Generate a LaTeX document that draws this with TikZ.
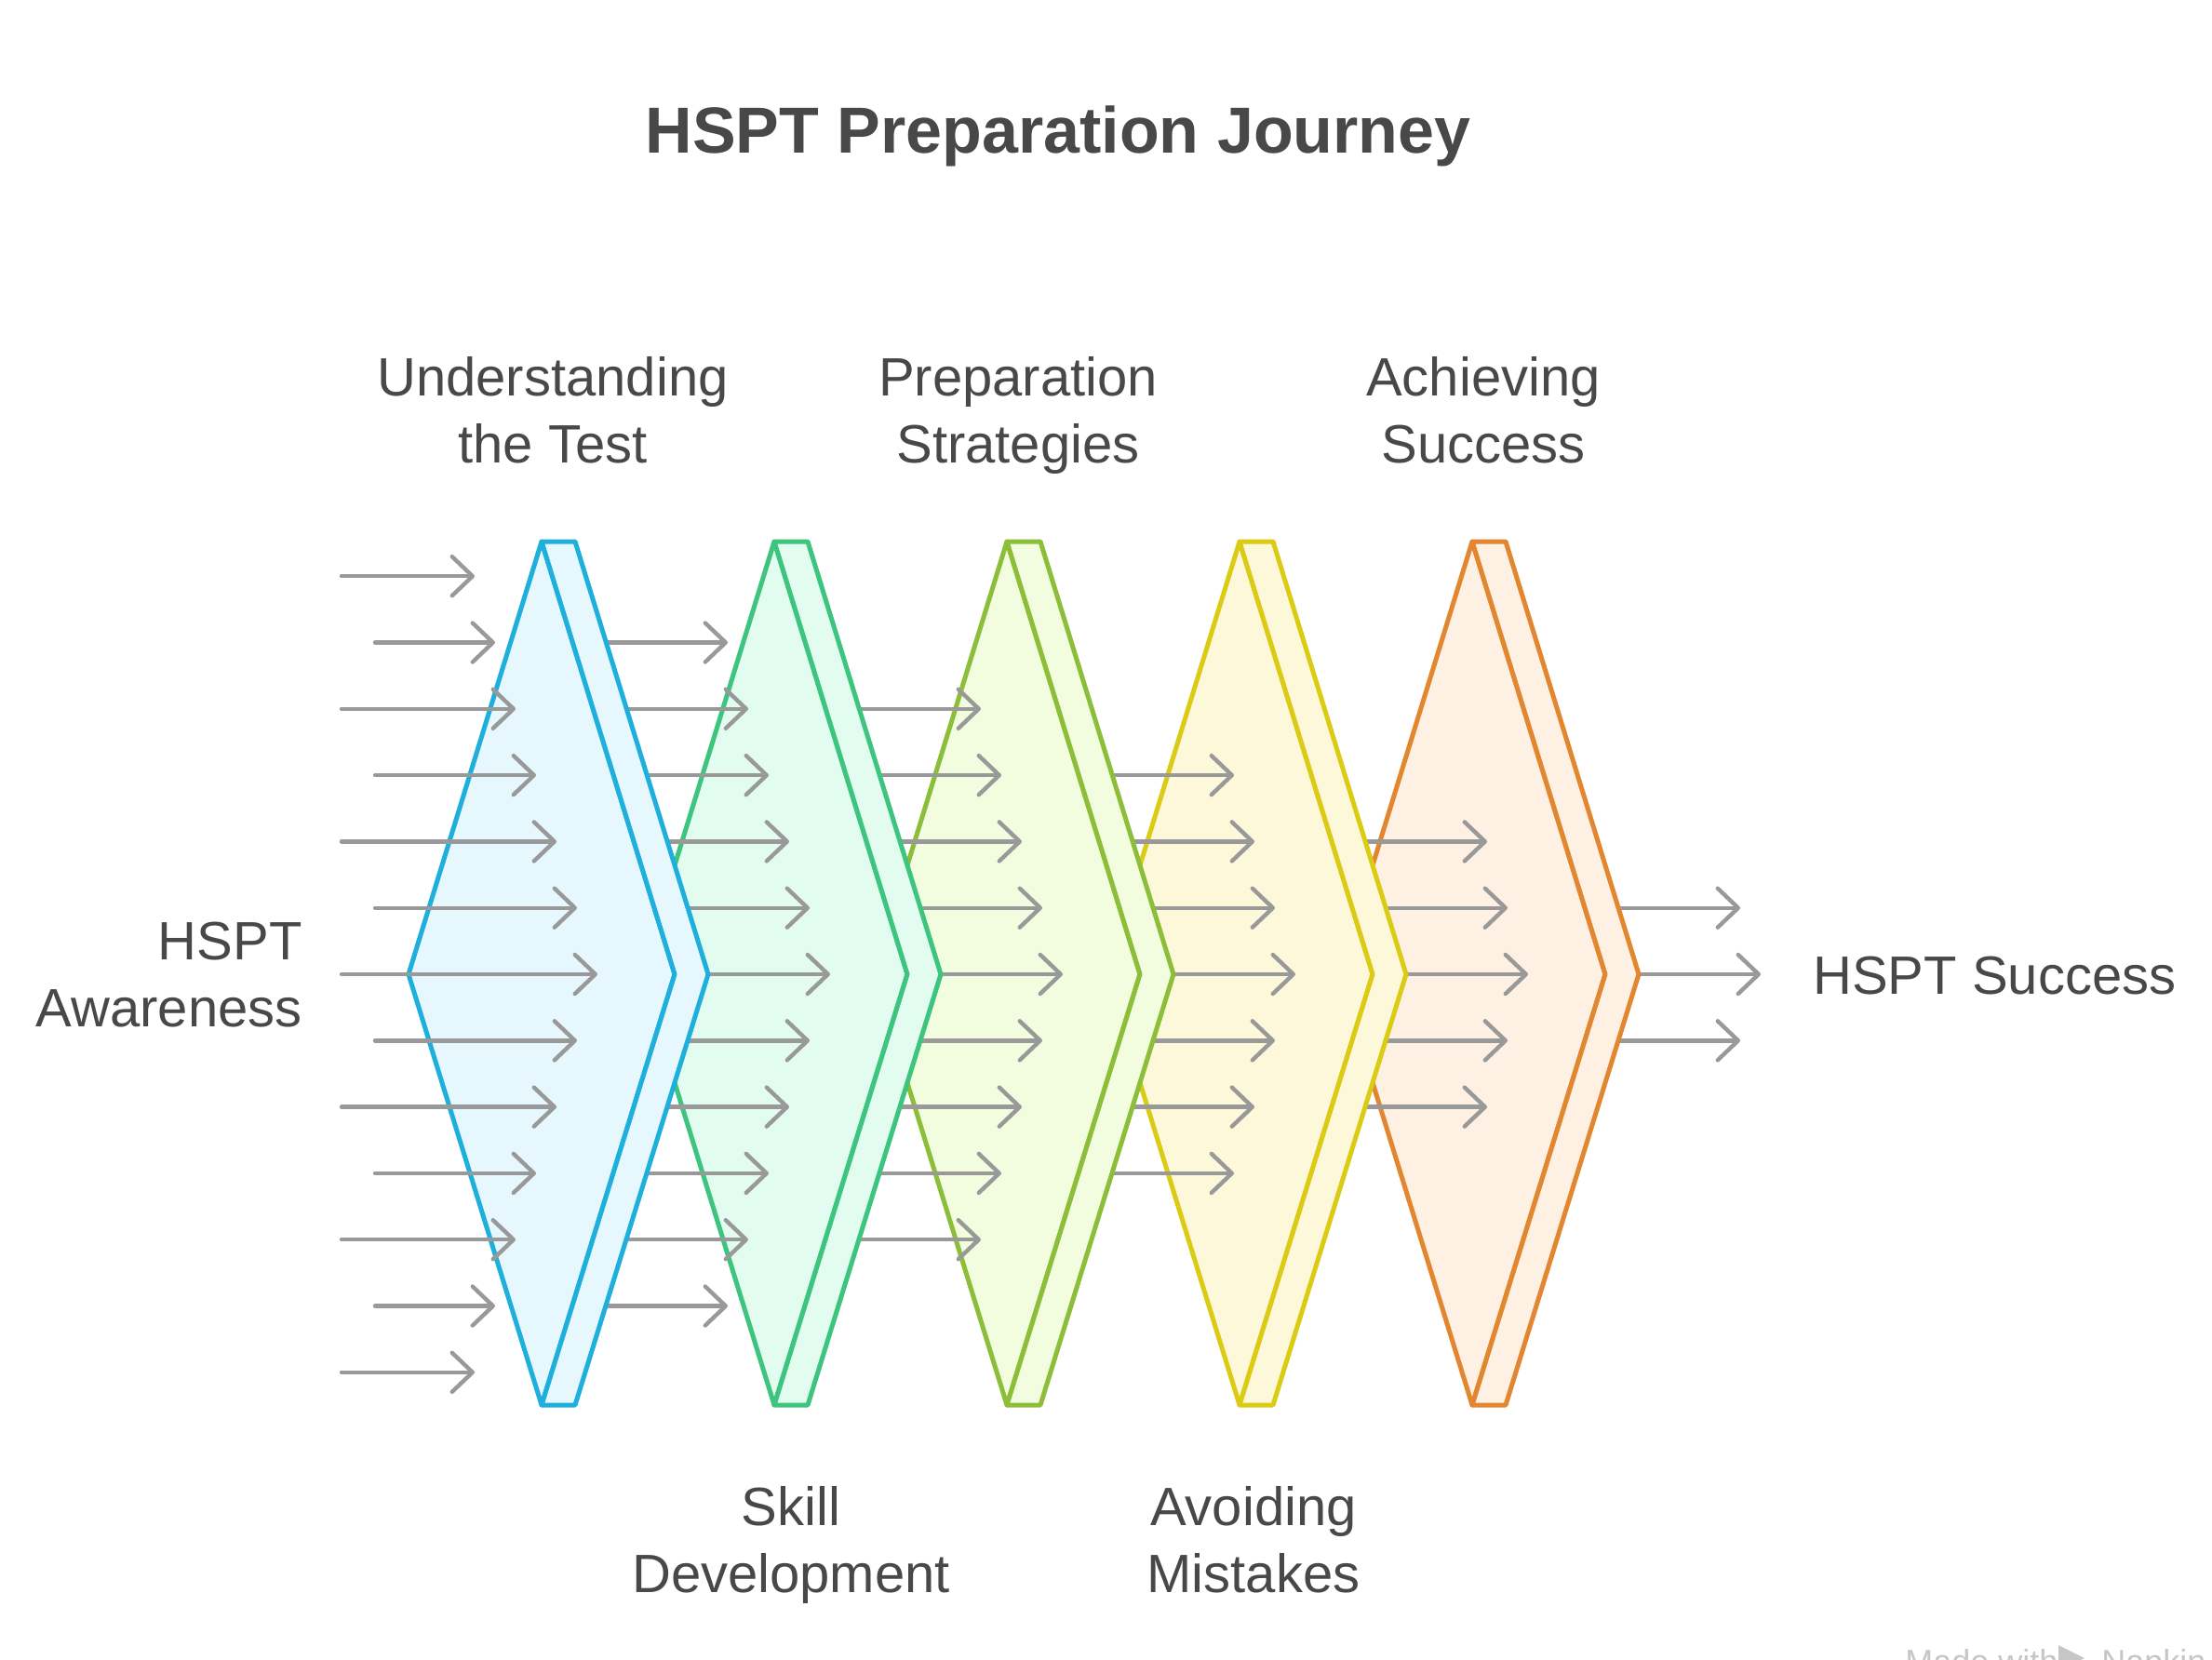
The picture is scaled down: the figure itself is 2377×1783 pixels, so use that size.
\documentclass[tikz,border=0pt]{standalone}
\usepackage{fontspec}
\setmainfont{Liberation Sans}
\usepackage{tikz}
\usetikzlibrary{arrows.meta}

\definecolor{txtgray}{HTML}{484848}
\definecolor{arrgray}{HTML}{999999}
\definecolor{blueline}{HTML}{1EAFDC}
\definecolor{bluefill}{HTML}{E6F8FE}
\definecolor{greenline}{HTML}{3DC47E}
\definecolor{greenfill}{HTML}{E2FDF0}
\definecolor{limeline}{HTML}{8DBE3A}
\definecolor{limefill}{HTML}{F2FDDF}
\definecolor{yellowline}{HTML}{DCCB14}
\definecolor{yellowfill}{HTML}{FEF8DA}
\definecolor{orangeline}{HTML}{E2872F}
\definecolor{orangefill}{HTML}{FEF0E3}

% one stage: apex x, line colour, fill colour
\newcommand{\prism}[3]{%
	\filldraw [prism, draw=#2, fill=#3] ({#1-143},1047) -- (#1,582) -- ({#1+143},1047) -- (#1,1510) -- cycle;
	\filldraw [prism, draw=#2, fill=#3] (#1,582) -- ({#1+36},582) -- ({#1+179},1047) -- ({#1+36},1510) -- (#1,1510) -- ({#1+143},1047) -- cycle;
}
% arrows into a stage: group, start x
\newcommand{\flows}[2]{%
	\pgfmathtruncatemacro{\rmax}{7-#1}
	\foreach \k in {-\rmax,...,\rmax}{
		\draw [flow] ({#2},{1047+71.3*\k}) -- ({642+250*(#1-1)-22*abs(\k)},{1047+71.3*\k});
	}
}

\begin{document}
\begin{tikzpicture}[
		x=0.5pt, y=-0.5pt,
		prism/.style={
			line width=2.5pt,
			line join=round
			},
		flow/.style={
			arrgray,
			line width=2.2pt,
			line cap=round,
			-{Straight Barb[length=11pt,width=21pt,round]}
			},
		label/.style={
			txtgray,
			font=\fontsize{29}{36}\selectfont,
			align=center,
			inner sep=0pt
			},
		wmark/.style={
			gray!45,
			font=\fontsize{18}{22}\selectfont,
			inner sep=0pt
			}]
	    \useasboundingbox (0,0) rectangle (2377,1783);

	    % Title
	    \node [anchor=base, txtgray, font=\bfseries\fontsize{35}{42}\selectfont] (title) at (1137,164) {HSPT Preparation Journey};

	    % Stages and arrows, from right to left
	    \flows{6}{1582}
	    \prism{1582}{orangeline}{orangefill}
	    \flows{5}{1332}
	    \prism{1332}{yellowline}{yellowfill}
	    \flows{4}{1082}
	    \prism{1082}{limeline}{limefill}
	    \flows{3}{832}
	    \prism{832}{greenline}{greenfill}
	    \flows{2}{582}
	    \prism{582}{blueline}{bluefill}
	    \flows{1}{367+36*mod(abs(\k),2)}

	    % Labels
	    \node [label, anchor=base] (understand) at (594,497) {Understanding\\the Test};
	    \node [label, anchor=base] (strategies) at (1094,497) {Preparation\\Strategies};
	    \node [label, anchor=base] (achieve) at (1594,497) {Achieving\\Success};
	    \node [label, anchor=base] (skill) at (850,1711) {Skill\\Development};
	    \node [label, anchor=base] (mistakes) at (1347,1711) {Avoiding\\Mistakes};
	    \node [label, anchor=base east, align=right] (awareness) at (325,1103) {HSPT\\Awareness};
	    \node [label, anchor=base west] (success) at (1948,1068) {HSPT Success};

	    % Watermark
	    \node [wmark, anchor=base west] (made) at (2047,1798) {Made with};
	    \fill [gray!45] (2212,1768) -- (2240,1782) -- (2212,1796) -- cycle;
	    \node [wmark, anchor=base west] (napkin) at (2258,1798) {Napkin};
	\end{tikzpicture}
\end{document}
